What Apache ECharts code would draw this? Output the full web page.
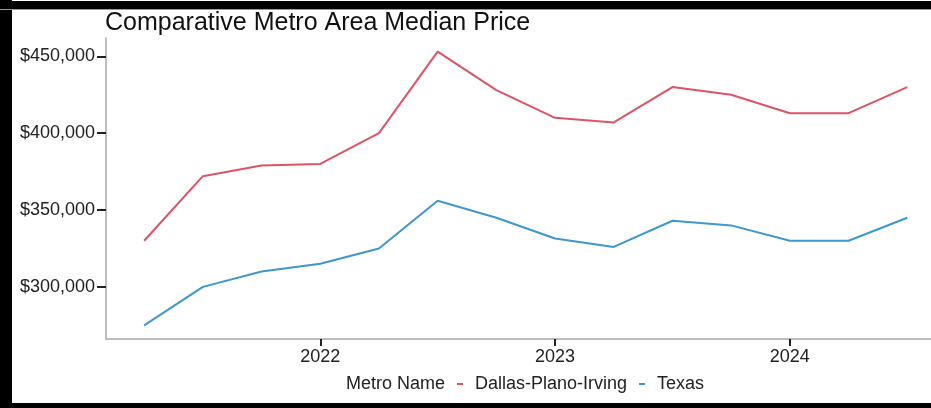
<!DOCTYPE html>
<html>
<head>
<meta charset="utf-8">
<title>Comparative Metro Area Median Price</title>
<script src="https://cdn.jsdelivr.net/npm/echarts@6/dist/echarts.min.js"></script>
<style>
  html, body { margin: 0; padding: 0; background: #fff; }
  #chart { width: 931px; height: 408px; }
</style>
</head>
<body>
<div id="chart"></div>
<script>
// Quarterly observation dates
const periods = ['2021-04', '2021-07', '2021-10', '2022-01', '2022-04', '2022-07', '2022-10',
                 '2023-01', '2023-04', '2023-07', '2023-10', '2024-01', '2024-04', '2024-07'];

// Median sale price per metro area
const dallasPlanoIrving = [330000, 372000, 379000, 380000, 400000, 453000, 428000,
                           410000, 407000, 430000, 425000, 413000, 413000, 430000];
const texas = [275000, 300000, 310000, 315000, 325000, 356000, 345000,
               331500, 326000, 343000, 340000, 330000, 330000, 345000];

const seriesNames = ['Dallas-Plano-Irving', 'Texas'];
const yearTicks = [2022, 2023, 2024];
const priceTicks = [300000, 350000, 400000, 450000];

// Decimal-year position of a 'YYYY-MM' period
function toYear(p) {
  const [y, m] = p.split('-').map(Number);
  return y + (m - 1) / 12;
}

const fmtPrice = v => '$' + v.toLocaleString('en-US');

// Axis limits padded by 5% of the data span on each side
const allValues = dallasPlanoIrving.concat(texas);
const vMin = Math.min(...allValues), vMax = Math.max(...allValues);
const vPad = (vMax - vMin) * 0.05;
const xs = periods.map(toYear);
const xPad = (xs[xs.length - 1] - xs[0]) * 0.05;

const chart = echarts.init(document.getElementById('chart'), null, { renderer: 'canvas' });
const font = 'Liberation Sans, Arial, Helvetica, sans-serif';

chart.setOption({
  animation: false,
  backgroundColor: '#ffffff',
  textStyle: { fontFamily: font },
  title: [
    {
      text: 'Comparative Metro Area Median Price',
      left: 105, top: 11, padding: 0,
      textStyle: { fontFamily: font, fontSize: 25, fontWeight: 'normal', color: '#111' }
    },
    {
      text: 'Metro Name',
      left: 346, top: 375, padding: 0,
      textStyle: { fontFamily: font, fontSize: 18, fontWeight: 'normal', color: '#222' }
    }
  ],
  legend: {
    data: seriesNames,
    left: 457, top: 375, padding: 0,
    icon: 'rect',
    itemWidth: 6, itemHeight: 2,
    itemGap: 12,
    textStyle: { fontFamily: font, fontSize: 18, color: '#222', padding: [0, 0, 0, 7] }
  },
  grid: { left: 106, right: 0, top: 38, bottom: 69, containLabel: false },
  xAxis: {
    type: 'value',
    min: xs[0] - xPad,
    max: xs[0] - xPad + 825 / 234.8,
    axisLine: { show: true, lineStyle: { color: '#a8a8a8', width: 1.5 } },
    axisTick: { show: true, customValues: yearTicks, length: 7, lineStyle: { color: '#222', width: 2 } },
    axisLabel: { customValues: yearTicks, margin: 9, fontSize: 18, color: '#222',
                 formatter: v => String(Math.round(v)) },
    splitLine: { show: false }
  },
  yAxis: {
    type: 'value',
    min: vMin - vPad,
    max: vMax + vPad,
    axisLine: { show: true, lineStyle: { color: '#a8a8a8', width: 1.5 } },
    axisTick: { show: true, customValues: priceTicks, length: 9, lineStyle: { color: '#222', width: 2 } },
    axisLabel: { customValues: priceTicks, margin: 11, fontSize: 18, color: '#222', formatter: fmtPrice },
    splitLine: { show: false }
  },
  series: [
    {
      name: seriesNames[0], type: 'line', showSymbol: false,
      data: xs.map((x, i) => [x, dallasPlanoIrving[i]]),
      lineStyle: { color: '#dc5468', width: 2 }, itemStyle: { color: '#dc5468' }
    },
    {
      name: seriesNames[1], type: 'line', showSymbol: false,
      data: xs.map((x, i) => [x, texas[i]]),
      lineStyle: { color: '#3f98cd', width: 2 }, itemStyle: { color: '#3f98cd' }
    }
  ],
  graphic: [
    // Frame around the figure
    { type: 'rect', shape: { x: 0, y: 0, width: 12, height: 408 }, style: { fill: '#000' }, z: 100 },
    { type: 'rect', shape: { x: 0, y: 1, width: 931, height: 8 }, style: { fill: '#000' }, z: 100 },
    { type: 'rect', shape: { x: 0, y: 9, width: 931, height: 1 }, style: { fill: '#999' }, z: 100 },
    { type: 'rect', shape: { x: 0, y: 403, width: 931, height: 5 }, style: { fill: '#000' }, z: 100 }
  ]
});
</script>
</body>
</html>
